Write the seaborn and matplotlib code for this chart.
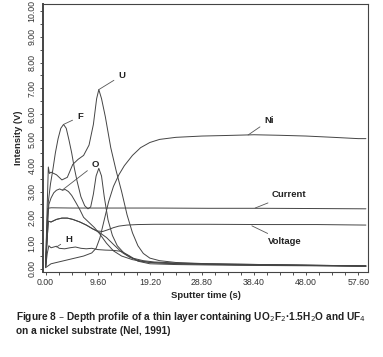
import numpy as np
import pandas as pd
import matplotlib
matplotlib.use("Agg")
import matplotlib.pyplot as plt
import matplotlib.ticker as mticker
from matplotlib import font_manager as fm
import seaborn as sns

# --- data (time in s, intensity in V) ---
u_t = [0, 0.3, 0.5, 0.7, 1.0, 2.0, 3.0, 4.0, 5.0, 6.0, 7.0, 8.0, 8.8, 9.4, 9.8, 10.3, 11.0, 12.0, 13.0, 14.0, 15.0, 16.0, 17.0, 18.0, 19.2, 21, 24, 30, 40, 50, 59]
u_v = [0.1, 2.5, 3.95, 3.7, 3.75, 3.65, 3.45, 3.55, 4.05, 4.25, 4.4, 4.8, 5.6, 6.6, 6.95, 6.6, 5.9, 4.7, 3.8, 3.0, 2.1, 1.4, 0.9, 0.6, 0.42, 0.32, 0.25, 0.2, 0.17, 0.14, 0.12]

f_t = [0, 0.3, 0.5, 0.9, 1.3, 1.8, 2.3, 2.8, 3.3, 3.8, 4.3, 4.8, 5.3, 5.8, 6.5, 7.2, 7.8, 8.3, 8.8, 9.3, 9.8, 10.3, 10.8, 11.5, 12.3, 13.2, 14.5, 16, 18, 20, 25, 30, 40, 50, 59]
f_v = [0.1, 1.5, 2.6, 3.3, 3.8, 4.5, 5.05, 5.45, 5.6, 5.45, 5.0, 4.5, 3.9, 3.4, 2.8, 2.45, 2.33, 2.4, 2.9, 3.6, 3.9, 3.6, 2.8, 1.9, 1.3, 0.9, 0.6, 0.42, 0.32, 0.27, 0.22, 0.2, 0.17, 0.14, 0.12]

o_t = [0, 0.3, 0.6, 1.0, 1.5, 2.0, 2.6, 3.1, 3.6, 4.2, 4.8, 5.5, 6.3, 7.0, 8.0, 9.0, 10, 11.2, 12.5, 14, 16, 18, 20, 25, 35, 45, 59]
o_v = [0.1, 1.5, 2.5, 2.75, 2.95, 3.05, 3.1, 3.05, 3.08, 3.0, 2.85, 2.6, 2.3, 2.0, 1.8, 1.6, 1.35, 1.0, 0.7, 0.5, 0.36, 0.28, 0.24, 0.2, 0.17, 0.15, 0.12]

h_t = [0, 0.3, 0.6, 1.0, 1.5, 2.0, 2.5, 3.5, 4.5, 5.5, 6.5, 7.5, 8.5, 9.6, 11, 12.5, 14, 15.5, 17, 19.2, 24, 35, 50, 59]
h_v = [0.05, 0.6, 0.9, 0.82, 0.85, 0.88, 0.8, 0.78, 0.82, 0.85, 0.8, 0.78, 0.8, 0.75, 0.73, 0.72, 0.68, 0.5, 0.3, 0.2, 0.17, 0.14, 0.12, 0.1]

# unlabelled trace that falls away from the voltage line
x_t = [0, 0.3, 0.5, 1, 2, 3, 4, 5, 6.3, 7.5, 8.7, 10, 11.2, 12.5, 14, 15.5, 17, 19.2, 24, 30, 40, 50, 59]
x_v = [0.1, 1.2, 1.85, 1.82, 1.92, 1.97, 1.97, 1.92, 1.82, 1.7, 1.55, 1.4, 1.22, 0.95, 0.65, 0.45, 0.33, 0.25, 0.2, 0.18, 0.15, 0.13, 0.1]

ni_t = [0, 1, 3, 5, 7, 8.5, 9.3, 10, 10.8, 11.6, 12.5, 13.5, 14.5, 16, 17.5, 19.2, 21, 24, 28.8, 33, 38.4, 43, 48, 53, 57.6, 59]
ni_v = [0.05, 0.2, 0.3, 0.4, 0.5, 0.62, 0.8, 1.2, 1.9, 2.6, 3.2, 3.65, 4.0, 4.4, 4.7, 4.9, 5.02, 5.1, 5.15, 5.17, 5.2, 5.18, 5.15, 5.1, 5.05, 5.05]

cur_t = [0, 0.2, 0.4, 1, 5, 10, 20, 30, 40, 50, 59]
cur_v = [0.1, 1.5, 2.35, 2.37, 2.36, 2.36, 2.36, 2.35, 2.35, 2.34, 2.33]

volt_t = [0, 0.3, 0.5, 1, 2, 3, 4, 5, 6.3, 7.5, 8.7, 9.6, 10.5, 11.5, 12.5, 13.5, 15, 17, 20, 30, 40, 50, 59]
volt_v = [0.1, 1.2, 1.85, 1.82, 1.92, 1.97, 1.97, 1.92, 1.82, 1.7, 1.55, 1.47, 1.45, 1.52, 1.6, 1.66, 1.7, 1.72, 1.73, 1.73, 1.72, 1.72, 1.7]

x_ticks = [0.00, 9.60, 19.20, 28.80, 38.40, 48.00, 57.60]
y_ticks = [0, 1, 2, 3, 4, 5, 6, 7, 8, 9, 10]

sns.set_style("white")
names = {f.name for f in fm.fontManager.ttflist}
cap_font = "Liberation Sans Narrow" if "Liberation Sans Narrow" in names else "Liberation Sans"
plt.rcParams["font.family"] = ["Liberation Sans", "DejaVu Sans"]

fig = plt.figure(figsize=(3.83, 3.57), dpi=100)
ax = fig.add_axes([0.112, 0.238, 0.849, 0.751])

line_col = "#444444"
traces = [(u_t, u_v), (f_t, f_v), (o_t, o_v), (h_t, h_v), (x_t, x_v),
          (ni_t, ni_v), (cur_t, cur_v), (volt_t, volt_v)]
for t, v in traces:
    sns.lineplot(x=t, y=v, ax=ax, color=line_col, linewidth=0.7,
                 estimator=None, sort=False)

ax.set_xlim(-0.5, 59.4)
ax.set_ylim(-0.12, 10.27)
ax.set_xticks(x_ticks)
ax.set_yticks(y_ticks)
ax.xaxis.set_minor_locator(mticker.MultipleLocator(2.4))
ax.yaxis.set_minor_locator(mticker.MultipleLocator(0.5))
ax.xaxis.set_major_formatter(mticker.FormatStrFormatter("%.2f"))
ax.yaxis.set_major_formatter(mticker.FormatStrFormatter("%.2f"))
ax.tick_params(which="both", direction="out", length=2.5, width=0.6,
               color="#333333", labelsize=6.3, labelcolor="#333333",
               bottom=True, left=True, pad=2)
for lab in ax.get_yticklabels():
    lab.set_rotation(90)
    lab.set_va("center")
for s in ax.spines.values():
    s.set_color("#444444")
    s.set_linewidth(0.8)
ax.spines["left"].set_linewidth(1.4)

ax.set_xlabel("Sputter time (s)", fontsize=6.8, fontweight="bold", labelpad=3)
ax.set_ylabel("Intensity (V)", fontsize=6.8, fontweight="bold", labelpad=3)

# labels with leader lines
notes = [("U", (9.8, 6.95), (13.4, 7.5)),
         ("F", (3.3, 5.6), (5.8, 5.9)),
         ("O", (3.1, 3.06), (8.5, 4.05)),
         ("H", (2.0, 0.85), (3.6, 1.15)),
         ("Ni", (37.3, 5.19), (40.3, 5.75)),
         ("Current", (38.6, 2.36), (41.6, 2.88)),
         ("Voltage", (38.0, 1.67), (41.0, 1.05))]
for txt, xy, xytext in notes:
    ax.annotate(txt, xy=xy, xytext=xytext, fontsize=6.8, fontweight="bold",
                ha="left", va="center", color="#222222",
                arrowprops=dict(arrowstyle="-", color="#555555", lw=0.6,
                                shrinkA=1, shrinkB=0))

fig.text(0.042, 0.095, "Figure 8 \u2013 Depth profile of a thin layer containing "
         "UO$_2$F$_2$\u00b71.5H$_2$O and UF$_4$\non a nickel substrate (Nel, 1991)",
         fontsize=7.3, fontweight="bold", family=[cap_font, "DejaVu Sans"],
         color="#222222", ha="left", va="center", linespacing=1.3)

fig.savefig("out.png", dpi=100, facecolor="white")
